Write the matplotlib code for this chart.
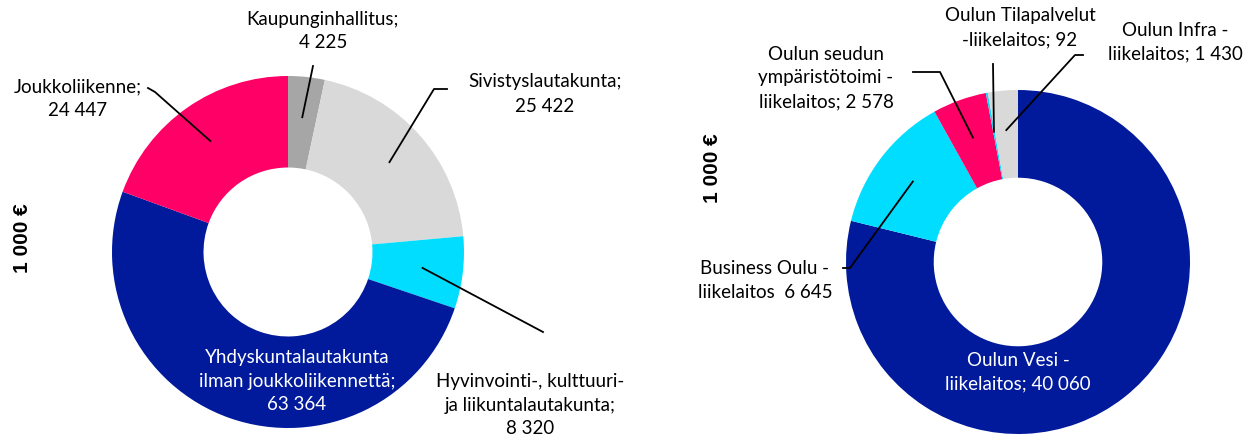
import numpy as np
import matplotlib
matplotlib.use("Agg")
import matplotlib.pyplot as plt

W, H = 1258, 447

# left donut: committees
left_labels = ["Kaupunginhallitus;\n4 225", "Sivistyslautakunta;\n25 422",
               "Hyvinvointi-, kulttuuri-\nja liikuntalautakunta;\n8 320",
               "Yhdyskuntalautakunta\nilman joukkoliikennettä;\n63 364",
               "Joukkoliikenne;\n24 447"]
left_values = [4225, 25422, 8320, 63364, 24447]
left_colors = ["#A6A6A6", "#D9D9D9", "#00DDFF", "#001A9B", "#FF0066"]

# right donut: municipal enterprises
right_labels = ["Oulun Vesi -\nliikelaitos; 40 060", "Business Oulu -\nliikelaitos  6 645",
                "Oulun seudun\nympäristötoimi -\nliikelaitos; 2 578",
                "Oulun Tilapalvelut\n-liikelaitos; 92", "Oulun Infra -\nliikelaitos; 1 430"]
right_values = [40060, 6645, 2578, 92, 1430]
right_colors = ["#001A9B", "#00DDFF", "#FF0066", "#00DDFF", "#D9D9D9"]

unit_label = "1 000 €"

plt.rcParams['font.family'] = ['Lato', 'DejaVu Sans']
FS = 13.5
LS = 1.5

fig = plt.figure(figsize=(W / 100, H / 100), dpi=100)
ax = fig.add_axes([0, 0, 1, 1])


def py(y):
    # pixel row (from top) -> data y
    return H - y


def donut(values, colors, center, radius, hole):
    wedges, _ = ax.pie(values, colors=colors, startangle=90, counterclock=False,
                       center=center, radius=radius,
                       wedgeprops=dict(width=radius * (1 - hole), linewidth=0))
    anchors = []
    for w in wedges:
        mid = np.deg2rad((w.theta1 + w.theta2) / 2)
        r = radius * 0.77
        anchors.append((center[0] + r * np.cos(mid), center[1] + r * np.sin(mid)))
    return anchors


def unit_text(x, y):
    ax.text(x, py(y), unit_label, rotation=90, ha='center', va='center',
            fontsize=15, fontweight='bold',
            fontfamily=['Liberation Sans', 'DejaVu Sans'])


# ---- left chart
lc = (288, py(252))
la = donut(left_values, left_colors, lc, 176, 0.48)

# (text x, text y, ha, color, leader elbow points from text side)
left_text = [
    (323, 31, 'center', 'black', [(313, 66)]),
    (545, 94, 'center', 'black', [(447, 89), (434, 89)]),
    (530, 405, 'center', 'black', [(543, 332)]),
    (297, 381, 'center', 'white', None),
    (78, 99, 'center', 'black', [(148, 88), (155, 92)]),
]
for (tx, ty, ha, col, pts), lab, anc in zip(left_text, left_labels, la):
    ax.text(tx, py(ty), lab, ha=ha, va='center', color=col, fontsize=FS,
            linespacing=LS)
    if pts:
        xs = [p[0] for p in pts] + [anc[0]]
        ys = [py(p[1]) for p in pts] + [anc[1]]
        ax.plot(xs, ys, color='black', lw=1.3)

unit_text(22, 238)

# ---- right chart
rc = (1018, py(262))
ra = donut(right_values, right_colors, rc, 172, 0.49)

right_text = [
    (1018, 372, 'center', 'white', None),
    (765, 280, 'center', 'black', [(843, 268), (850, 268)]),
    (826, 78, 'center', 'black', [(913, 72), (940, 72)]),
    (1020, 28, 'center', 'black', [(993, 64)]),
    (1175, 42, 'center', 'black', [(1083, 55), (1075, 55)]),
]
for (tx, ty, ha, col, pts), lab, anc in zip(right_text, right_labels, ra):
    ax.text(tx, py(ty), lab, ha=ha, va='center', color=col, fontsize=FS,
            linespacing=LS)
    if pts:
        xs = [p[0] for p in pts] + [anc[0]]
        ys = [py(p[1]) for p in pts] + [anc[1]]
        ax.plot(xs, ys, color='black', lw=1.3)

unit_text(712, 168)

# pie() rescales the axes, so fix the pixel frame last
ax.set_xlim(0, W)
ax.set_ylim(0, H)
ax.set_aspect('equal')
ax.axis('off')

fig.savefig("out.png", dpi=100)
